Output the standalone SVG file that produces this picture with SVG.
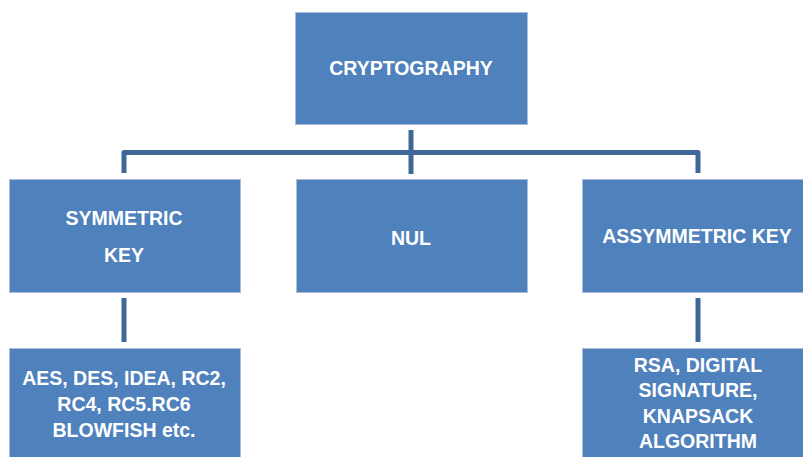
<svg xmlns="http://www.w3.org/2000/svg" width="803" height="457" viewBox="0 0 803 457">
<style>
.box{fill:#4F81BD;stroke:#A9BEDC;stroke-width:1}
.lbl{font-family:"Liberation Sans",Arial,sans-serif;font-weight:bold;font-size:19.5px;fill:#FFFFFF;text-anchor:middle}
.con{fill:none;stroke:#3F6797;stroke-width:5;stroke-linejoin:round}
</style>
<rect width="803" height="457" fill="#FFFFFF"/>
<g id="connectors">
<path class="con" d="M124,173 V152.5 H698 V173"/>
<path class="con" d="M411,130 V174"/>
<path class="con" d="M124,298 V342"/>
<path class="con" d="M698,298 V342"/>
</g>
<g id="crypto">
<rect class="box" x="295.5" y="12.5" width="232" height="112"/>
<text class="lbl" x="411" y="75">CRYPTOGRAPHY</text>
</g>
<g id="symmetric">
<rect class="box" x="9.5" y="179.5" width="231" height="113"/>
<text class="lbl" x="124" y="225">SYMMETRIC</text>
<text class="lbl" x="124" y="262">KEY</text>
</g>
<g id="nul">
<rect class="box" x="296.5" y="179.5" width="231" height="113"/>
<text class="lbl" x="411" y="245">NUL</text>
</g>
<g id="asymmetric">
<rect class="box" x="582.5" y="179.5" width="222" height="113"/>
<text class="lbl" x="697" y="243">ASSYMMETRIC KEY</text>
</g>
<g id="symalgos">
<rect class="box" x="9.5" y="348.5" width="231" height="115"/>
<text class="lbl" x="124" y="385">AES, DES, IDEA, RC2,</text>
<text class="lbl" x="124" y="411">RC4, RC5.RC6</text>
<text class="lbl" x="124" y="437">BLOWFISH etc.</text>
</g>
<g id="asymalgos">
<rect class="box" x="582.5" y="348.5" width="222" height="115"/>
<text class="lbl" x="698" y="372">RSA, DIGITAL</text>
<text class="lbl" x="698" y="397">SIGNATURE,</text>
<text class="lbl" x="698" y="423">KNAPSACK</text>
<text class="lbl" x="698" y="448">ALGORITHM</text>
</g>
</svg>
